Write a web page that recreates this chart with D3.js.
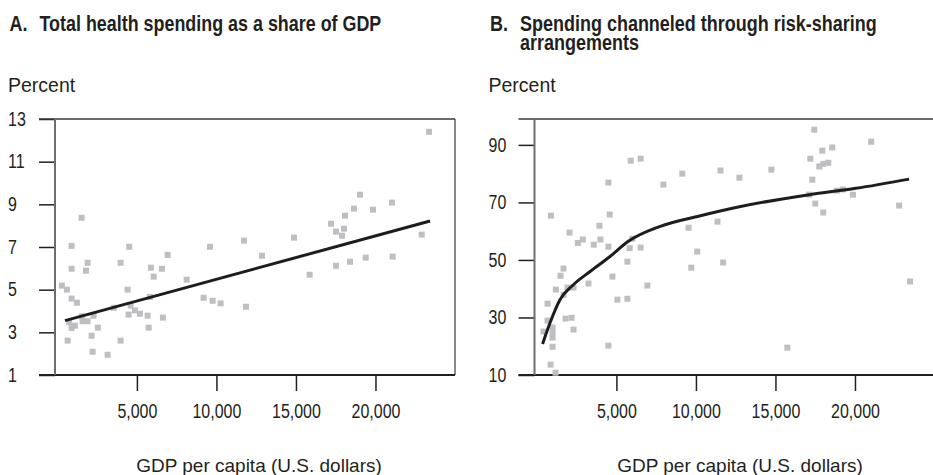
<!DOCTYPE html>
<html><head><meta charset="utf-8">
<script src="https://cdn.jsdelivr.net/npm/d3@7"></script>
<style>
body{margin:0;background:#fff;}
svg{display:block;}
</style></head>
<body>
<svg id="c" width="933" height="475"></svg>
<script>
// ---------- DATA ----------
const titleA = ["A.", "Total health spending as a share of GDP"];
const titleB = ["B.", "Spending channeled through risk-sharing", "arrangements"];
const yLabel = "Percent";
const xLabel = "GDP per capita (U.S. dollars)";
const xTicks = [5000, 10000, 15000, 20000];
const yTicksA = [1, 3, 5, 7, 9, 11, 13];
const yTicksB = [10, 30, 50, 70, 90];

// Panel A: [GDP per capita, health spending % of GDP]
const gdpA = [893,4516,9592,6932,893,1900,1793,3975,5881,6573,6051,8127,283,598,4416,893,1227,5818,9196,9762,10265,3554,4604,4875,4478,5189,5674,6636,1541,2277,1585,1900,742,1101,893,2547,5737,2151,642,3975,2214,3158,1522,23367,19027,21040,18650,19845,18084,17203,17518,18021,17895,11731,14876,22908,12863,15863,17518,18399,19386,21084,11857];
const shareA = [7.05,7.01,7.01,6.63,5.98,6.26,5.89,6.26,6.03,5.98,5.61,5.47,5.19,5.00,5.00,4.58,4.39,4.66,4.62,4.48,4.36,4.15,4.25,4.03,3.83,3.87,3.78,3.69,3.75,3.78,3.52,3.52,3.47,3.31,3.20,3.22,3.22,2.84,2.61,2.61,2.09,1.95,8.37,12.40,9.45,9.08,8.80,8.75,8.47,8.09,7.72,7.86,7.53,7.30,7.44,7.58,6.59,5.70,6.12,6.31,6.50,6.55,4.20];
// Panel A fitted line
const fitGdpA = [478, 23434];
const fitShareA = [3.55, 8.22];

// Panel B: [GDP per capita, % through risk-sharing]
const gdpB = [878,5898,6525,4498,7949,9141,4580,3934,9536,2052,2886,2572,3996,6004,3576,4498,5835,6525,10082,9706,5691,1675,1487,4749,3244,6945,1192,1926,2303,1675,5063,5691,671,671,1801,2177,2303,420,985,985,985,985,4498,860,1173,17442,21018,17944,18571,17191,17756,18006,18320,11544,12736,14744,17316,17128,18866,19242,19870,17505,18006,22775,11356,11713,23465,15748];
const shareB = [65.4,84.5,85.2,76.9,76.2,80.0,65.8,61.9,61.2,59.5,57.1,55.9,57.1,57.4,55.3,54.6,54.1,54.3,52.9,47.3,49.4,47.0,44.5,44.2,41.8,41.1,39.7,40.4,40.4,37.9,36.2,36.5,34.8,28.9,29.6,29.9,25.8,25.1,26.5,24.7,23.0,19.8,20.2,13.6,10.8,95.3,91.1,88.0,89.1,85.2,82.5,83.4,83.8,81.1,78.6,81.4,77.9,72.7,74.1,74.5,72.7,69.6,66.5,68.9,63.3,49.1,42.5,19.5];
// Panel B fitted curve
const fitGdpB = [358, 816, 1443, 2277, 3325, 4580, 5728, 7717, 10227, 12736, 17128, 20058, 23402];
const fitShareB = [20.8, 28.0, 36.1, 41.3, 45.9, 51.1, 56.4, 61.6, 65.3, 68.5, 72.7, 74.9, 78.1];

// ---------- DRAW ----------
const svg = d3.select("#c");
const TXT = "'Liberation Sans', Arial, sans-serif";
const plotTop = 119, plotBottom = 375;
const SX = 0.82; // horizontal condensing for tick numerals

function panel(cfg) {
  const x = d3.scaleLinear().domain([-150, 25000]).range([cfg.left, cfg.left + 400]);
  const y = d3.scaleLinear().domain(cfg.yDomain).range([plotBottom, plotTop]);
  const g = svg.append("g");

  // title: one text element, condensed horizontally to the target width
  const t = g.append("text").attr("font-family", TXT).attr("font-weight", "bold")
    .attr("font-size", 22).attr("fill", "#231f20");
  t.append("tspan").attr("x", 0).attr("y", 0).text(cfg.title[0]);
  const main = t.append("tspan").attr("y", 0).text(cfg.title[1]);
  const s = cfg.titleW / main.node().getComputedTextLength();
  main.attr("x", 30 / s);
  if (cfg.title[2]) t.append("tspan").attr("x", 30 / s).attr("y", 19).text(cfg.title[2]);
  t.attr("transform", `translate(${cfg.titleX},30.5) scale(${s},1)`);

  g.append("text").attr("x", cfg.titleX - 1.5).attr("y", 91.5)
    .attr("font-family", TXT).attr("font-size", 19.5).attr("fill", "#231f20").text(yLabel);

  // y axis
  const ya = g.append("g").attr("transform", `translate(${cfg.left},0)`)
    .call(d3.axisLeft(y).tickValues(cfg.yTicks).tickSize(16).tickFormat(d3.format("d")));
  ya.select(".domain").remove();
  ya.selectAll(".tick line").attr("stroke", "#231f20").attr("stroke-width", 1.5);
  ya.selectAll(".tick text").attr("text-anchor", "start")
    .attr("x", (cfg.titleX - 1.5 - cfg.left) / SX).attr("transform", `scale(${SX},1)`)
    .attr("font-family", TXT).attr("font-size", 19.5).attr("fill", "#231f20");

  // x axis
  const xa = g.append("g").attr("transform", `translate(0,${plotBottom})`)
    .call(d3.axisBottom(x).tickValues(xTicks).tickSize(16).tickPadding(13).tickFormat(d3.format(",")));
  xa.select(".domain").remove();
  xa.selectAll(".tick line").attr("stroke", "#231f20").attr("stroke-width", 1.5);
  xa.selectAll(".tick text").attr("transform", `scale(${SX},1)`)
    .attr("font-family", TXT).attr("font-size", 19.5).attr("fill", "#231f20");

  g.append("text").attr("x", cfg.xTitleX).attr("y", 472).attr("text-anchor", "middle")
    .attr("font-family", TXT).attr("font-size", 19).attr("fill", "#231f20").text(xLabel);

  // frame
  const L = cfg.left, R = cfg.left + 400;
  g.append("line").attr("x1", L - 16).attr("x2", R).attr("y1", plotTop).attr("y2", plotTop)
    .attr("stroke", "#3a3a3a").attr("stroke-width", 1.5);
  g.append("line").attr("x1", R).attr("x2", R).attr("y1", plotTop).attr("y2", plotBottom)
    .attr("stroke", "#3a3a3a").attr("stroke-width", 1.2);
  g.append("line").attr("x1", L - 16).attr("x2", R).attr("y1", plotBottom).attr("y2", plotBottom)
    .attr("stroke", "#231f20").attr("stroke-width", 2);
  g.append("line").attr("x1", L).attr("x2", L).attr("y1", plotTop).attr("y2", plotBottom)
    .attr("stroke", "#6d6d6d").attr("stroke-width", 2);

  // points
  const pts = cfg.xs.map((d, i) => [d, cfg.ys[i]]);
  g.append("g").selectAll("rect").data(pts).join("rect")
    .attr("x", d => x(d[0]) - 3).attr("y", d => y(d[1]) - 3)
    .attr("width", 6).attr("height", 6).attr("fill", "#bfbfc3");

  // fit
  const fit = cfg.fx.map((d, i) => [d, cfg.fy[i]]);
  g.append("path").datum(fit)
    .attr("d", d3.line().x(d => x(d[0])).y(d => y(d[1])).curve(d3.curveMonotoneX))
    .attr("fill", "none").attr("stroke", "#1d1d1d").attr("stroke-width", 3);
}

panel({ left: 55, titleX: 9.5, xTitleX: 259, yDomain: [1, 13], yTicks: yTicksA, title: titleA,
        titleW: 342, xs: gdpA, ys: shareA, fx: fitGdpA, fy: fitShareA });
panel({ left: 534.5, titleX: 490, xTitleX: 740, yDomain: [10, 99], yTicks: yTicksB, title: titleB,
        titleW: 357, xs: gdpB, ys: shareB, fx: fitGdpB, fy: fitShareB });
</script>
</body></html>
